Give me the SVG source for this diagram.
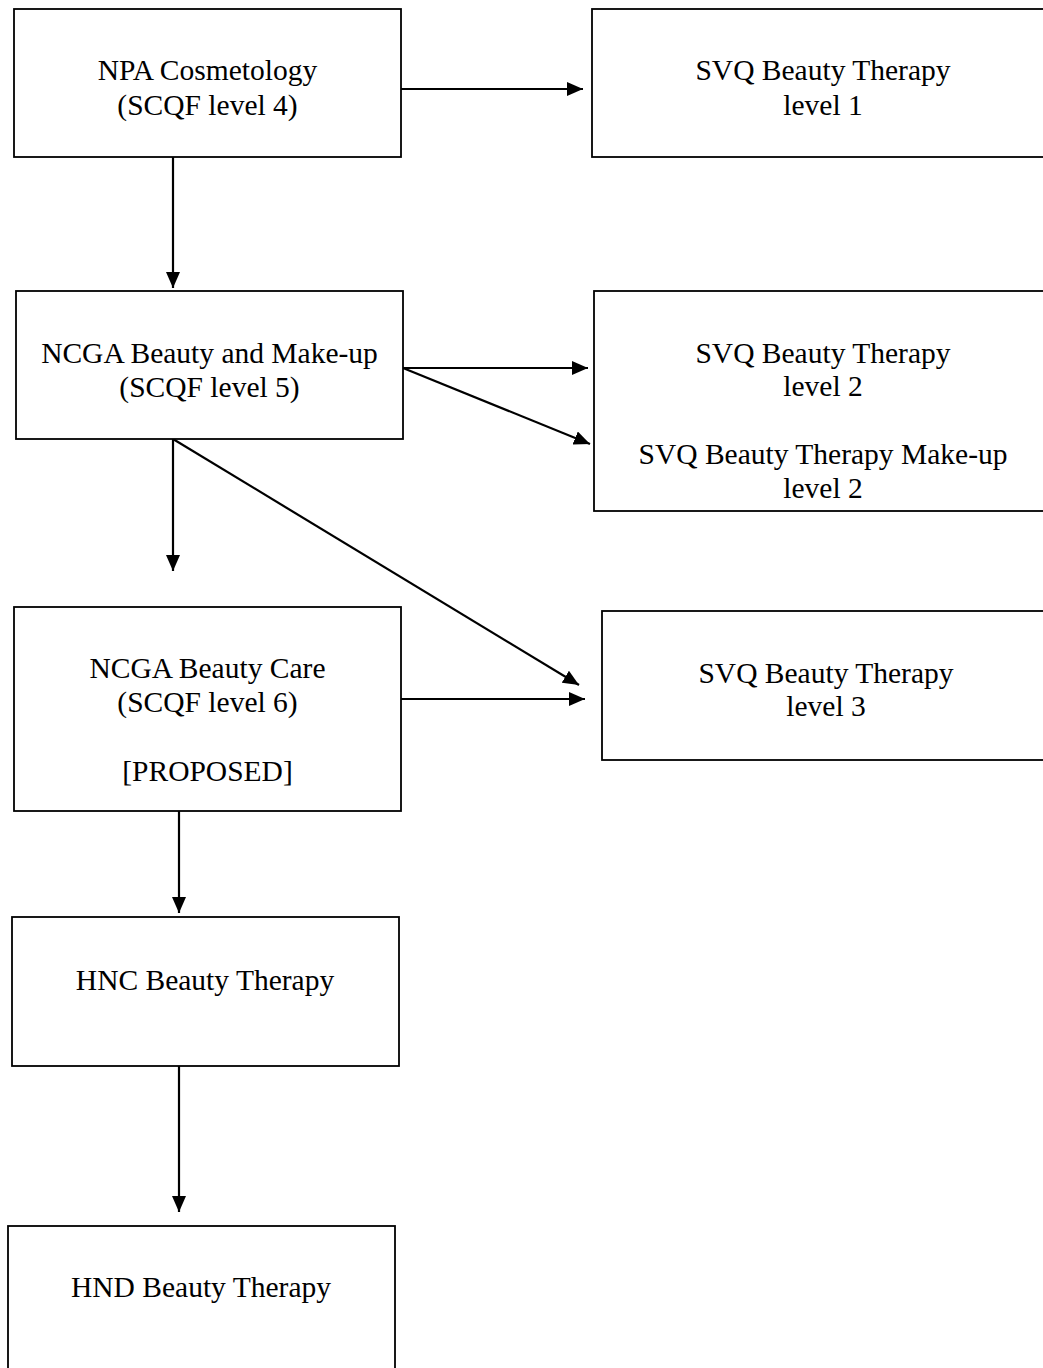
<svg xmlns="http://www.w3.org/2000/svg" width="1043" height="1368" viewBox="0 0 1043 1368">
<style>
.box{fill:#fff;stroke:#000;stroke-width:1.8}
.t{font-family:"Liberation Serif","Times New Roman",serif;font-size:29.5px;fill:#000;text-anchor:middle}
.c{stroke:#000;stroke-width:2.2;fill:none;marker-end:url(#ah)}
</style>
<defs>
<marker id="ah" markerUnits="userSpaceOnUse" markerWidth="16" markerHeight="14" refX="16" refY="7" orient="auto">
<path d="M0,0 L16,7 L0,14 z" fill="#000"/>
</marker>
</defs>
<rect width="1043" height="1368" fill="#fff"/>
<g id="connectors">
<line class="c" x1="401" y1="89" x2="583" y2="89"/>
<line class="c" x1="173" y1="157" x2="173" y2="288"/>
<line class="c" x1="403" y1="368" x2="588" y2="368"/>
<line class="c" x1="403" y1="368" x2="590" y2="444"/>
<line class="c" x1="173" y1="439" x2="173" y2="571"/>
<line class="c" x1="173" y1="439" x2="579" y2="685"/>
<line class="c" x1="401" y1="699" x2="585" y2="699"/>
<line class="c" x1="179" y1="811" x2="179" y2="913"/>
<line class="c" x1="179" y1="1066" x2="179" y2="1212"/>
</g>
<g id="npa">
<rect class="box" x="14" y="9" width="387" height="148"/>
<text class="t" x="207.5" y="80">NPA Cosmetology</text>
<text class="t" x="207.5" y="115">(SCQF level 4)</text>
</g>
<g id="svq1">
<rect class="box" x="592" y="9" width="462" height="148"/>
<text class="t" x="823" y="80">SVQ Beauty Therapy</text>
<text class="t" x="823" y="115">level 1</text>
</g>
<g id="ncga5">
<rect class="box" x="16" y="291" width="387" height="148"/>
<text class="t" x="209.5" y="363">NCGA Beauty and Make-up</text>
<text class="t" x="209.5" y="397">(SCQF level 5)</text>
</g>
<g id="svq2">
<rect class="box" x="594" y="291" width="460" height="220"/>
<text class="t" x="823" y="363">SVQ Beauty Therapy</text>
<text class="t" x="823" y="396">level 2</text>
<text class="t" x="823" y="464">SVQ Beauty Therapy Make-up</text>
<text class="t" x="823" y="498">level 2</text>
</g>
<g id="ncga6">
<rect class="box" x="14" y="607" width="387" height="204"/>
<text class="t" x="207.5" y="678">NCGA Beauty Care</text>
<text class="t" x="207.5" y="712">(SCQF level 6)</text>
<text class="t" x="207.5" y="781">[PROPOSED]</text>
</g>
<g id="svq3">
<rect class="box" x="602" y="611" width="452" height="149"/>
<text class="t" x="826" y="683">SVQ Beauty Therapy</text>
<text class="t" x="826" y="716">level 3</text>
</g>
<g id="hnc">
<rect class="box" x="12" y="917" width="387" height="149"/>
<text class="t" x="205" y="990">HNC Beauty Therapy</text>
</g>
<g id="hnd">
<rect class="box" x="8" y="1226" width="387" height="160"/>
<text class="t" x="201" y="1297">HND Beauty Therapy</text>
</g>
</svg>
